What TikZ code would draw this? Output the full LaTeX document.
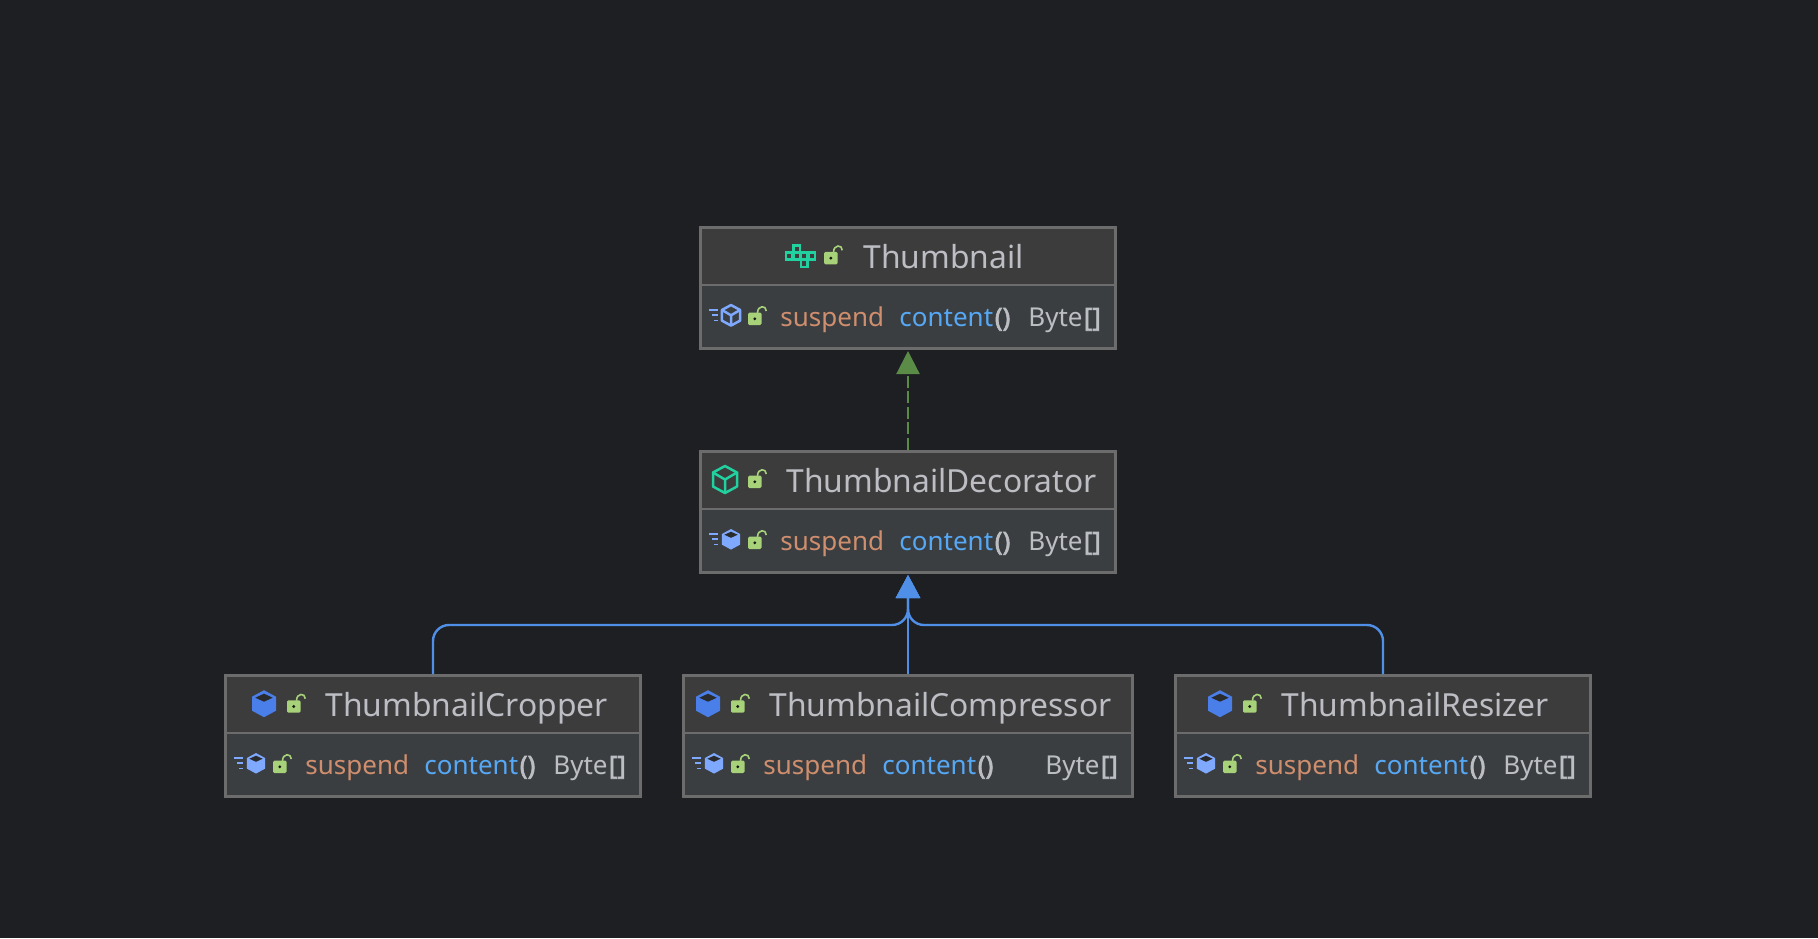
\documentclass[tikz,border=0pt]{standalone}
\usepackage{fontspec}
\setmainfont{Noto Sans}
\newfontfamily\strongmark[FakeBold=2.5]{Noto Sans}
\usetikzlibrary{arrows.meta}
\definecolor{canvasdark}{HTML}{1E1F22}
\definecolor{hdrfill}{HTML}{3C3C3C}
\definecolor{bodyfill}{HTML}{3B3E41}
\definecolor{frameline}{HTML}{6C6C6C}
\definecolor{plaintext}{HTML}{BCBEC4}
\definecolor{keywordorange}{HTML}{CF8E6D}
\definecolor{methodblue}{HTML}{56A8F5}
\definecolor{lockgreen}{HTML}{A8D27A}
\definecolor{ifacegreen}{HTML}{21D19F}
\definecolor{classblue}{HTML}{4A7EE8}
\definecolor{memberblue}{HTML}{7FA8FF}
\definecolor{implgreen}{HTML}{5A8C47}
\definecolor{extendblue}{HTML}{4F8FE8}

\newcommand{\methodicons}[3]{
	\pic at (#1-65,#2) {speedlines};
	\pic[scale=.76] at (#1-58+9,#2-10.7) {#3};
	\pic at (#1-32,#2-1) {lockicon};
}

\begin{document}
\begin{tikzpicture}[x=.5pt,y=-.5pt,
	classhdr/.style={draw=frameline,fill=hdrfill,line width=1pt,minimum height=28.75pt,inner sep=0pt,outer sep=0pt},
	classbody/.style={draw=frameline,fill=bodyfill,line width=1pt,minimum height=31.75pt,inner sep=0pt,outer sep=0pt},
	classframe/.style={draw=frameline,line width=1.5pt},
	titletext/.style={anchor=base west,inner sep=0pt,yshift=-.3pt,text=plaintext,font=\fontsize{15.9}{18}\selectfont},
	membertext/.style={anchor=base west,inner sep=0pt,yshift=-.3pt,text=plaintext,font=\fontsize{13}{15}\selectfont},
	keywordtext/.style={membertext,text=keywordorange},
	realizes/.style={draw=implgreen,line width=1.1pt,dash pattern=on 6pt off 1.8pt,shorten <=.75pt,shorten >=1.25pt,-{Triangle[length=11.5pt,width=11.5pt,fill=implgreen]}},
	extends/.style={draw=extendblue,line width=1.2pt,rounded corners=8pt,shorten <=.75pt,shorten >=1.25pt,-{Triangle[length=11.5pt,width=12pt,fill=extendblue]}},
	pics/lockicon/.style={code={
		\fill[lockgreen,rounded corners=.7pt] (0,0) rectangle (13.6,-12.4);
		\fill[hdrfill!40!black] (6.8,-6.2) circle (.8pt);
		\draw[lockgreen,line width=.8pt] (9.5,-12) .. controls (9.5,-20) and (18.3,-20) .. (18.3,-14);
	}},
	pics/speedlines/.style={code={
		\fill[memberblue] (-6,-16.8) rectangle (3,-15.2);
		\fill[memberblue] (-3.4,-11.8) rectangle (3,-10.2);
		\fill[memberblue] (-.8,-6.2) rectangle (3,-4.6);
	}},
	pics/cubeline/.style={code={
		\draw[#1,line width=1.25pt,line join=round] (0,-13.5) -- (12,-7) -- (12,7) -- (0,13.5) -- (-12,7) -- (-12,-7) -- cycle;
		\draw[#1,line width=1.25pt,line join=round] (-12,-7) -- (0,0) -- (12,-7) (0,0) -- (0,13.5);
	}},
	pics/cubesolid/.style={code={
		\fill[#1] (0,-13.5) -- (12,-7) -- (12,7) -- (0,13.5) -- (-12,7) -- (-12,-7) -- cycle;
		\fill[canvasdark!60!hdrfill] (0,-10) -- (8.7,-6) -- (0,-2) -- (-8.7,-6) -- cycle;
	}},
	pics/ifaceicon/.style={code={
		\foreach \col/\row in {1/0,0/1,1/1,2/1,3/1,2/2}
			\draw[ifacegreen,line width=1.3pt] (\col*7.4,\row*7.4) rectangle ++(6.7,6.7);
	}}]
	\path[fill=canvasdark,use as bounding box] (0,0) rectangle (1818,938);

	\node[classhdr,minimum width=207.5pt] (hdrThumbnail) at (908,256.25) {};
	\node[classbody,minimum width=207.5pt] (bodyThumbnail) at (908,316.75) {};
	\draw[classframe] (hdrThumbnail.north west) rectangle (bodyThumbnail.south east);
	\node[classhdr,minimum width=207.5pt] (hdrDecorator) at (908,480.25) {};
	\node[classbody,minimum width=207.5pt] (bodyDecorator) at (908,540.75) {};
	\draw[classframe] (hdrDecorator.north west) rectangle (bodyDecorator.south east);
	\node[classhdr,minimum width=207.5pt] (hdrCropper) at (433,704.25) {};
	\node[classbody,minimum width=207.5pt] (bodyCropper) at (433,764.75) {};
	\draw[classframe] (hdrCropper.north west) rectangle (bodyCropper.south east);
	\node[classhdr,minimum width=224.5pt] (hdrCompressor) at (908,704.25) {};
	\node[classbody,minimum width=224.5pt] (bodyCompressor) at (908,764.75) {};
	\draw[classframe] (hdrCompressor.north west) rectangle (bodyCompressor.south east);
	\node[classhdr,minimum width=207.5pt] (hdrResizer) at (1383,704.25) {};
	\node[classbody,minimum width=207.5pt] (bodyResizer) at (1383,764.75) {};
	\draw[classframe] (hdrResizer.north west) rectangle (bodyResizer.south east);

	\coordinate (joinBus) at (908,625);
	\draw[realizes] (hdrDecorator.north) -- (bodyThumbnail.south);
	\draw[extends] (hdrCropper.north) |- (joinBus) -- (bodyDecorator.south);
	\draw[extends] (hdrCompressor.north) -- (bodyDecorator.south);
	\draw[extends] (hdrResizer.north) |- (joinBus) -- (bodyDecorator.south);

	\pic at (786,245.3) {ifaceicon};
	\pic at (824,264.3) {lockicon};
	\node[titletext] (titleThumbnail) at (863,268) {Thumbnail};
	\methodicons{780}{326}{cubeline=memberblue}
	\node[keywordtext] (kwThumbnail) at (780,326) {suspend};
	\node[membertext] (fnThumbnail) at (899,326) {\textcolor{methodblue}{content}\kern.8pt{\strongmark()}};
	\node[membertext] (typeThumbnail) at (1028,326) {Byte\kern.6pt{\strongmark[]}};

	\pic at (725,479.5) {cubeline=ifacegreen};
	\pic at (748,488) {lockicon};
	\node[titletext] (titleDecorator) at (786,492) {ThumbnailDecorator};
	\methodicons{780}{550}{cubesolid=memberblue}
	\node[keywordtext] (kwDecorator) at (780,550) {suspend};
	\node[membertext] (fnDecorator) at (899,550) {\textcolor{methodblue}{content}\kern.8pt{\strongmark()}};
	\node[membertext] (typeDecorator) at (1028,550) {Byte\kern.6pt{\strongmark[]}};

	\pic at (264,703.7) {cubesolid=classblue};
	\pic at (287,712.7) {lockicon};
	\node[titletext] (titleCropper) at (325,716) {ThumbnailCropper};
	\methodicons{305}{774}{cubesolid=memberblue}
	\node[keywordtext] (kwCropper) at (305,774) {suspend};
	\node[membertext] (fnCropper) at (424,774) {\textcolor{methodblue}{content}\kern.8pt{\strongmark()}};
	\node[membertext] (typeCropper) at (553,774) {Byte\kern.6pt{\strongmark[]}};

	\pic at (708,703.7) {cubesolid=classblue};
	\pic at (731,712.7) {lockicon};
	\node[titletext] (titleCompressor) at (769,716) {ThumbnailCompressor};
	\methodicons{763}{774}{cubesolid=memberblue}
	\node[keywordtext] (kwCompressor) at (763,774) {suspend};
	\node[membertext] (fnCompressor) at (882,774) {\textcolor{methodblue}{content}\kern.8pt{\strongmark()}};
	\node[membertext] (typeCompressor) at (1045,774) {Byte\kern.6pt{\strongmark[]}};

	\pic at (1220,703.7) {cubesolid=classblue};
	\pic at (1243,712.7) {lockicon};
	\node[titletext] (titleResizer) at (1281,716) {ThumbnailResizer};
	\methodicons{1255}{774}{cubesolid=memberblue}
	\node[keywordtext] (kwResizer) at (1255,774) {suspend};
	\node[membertext] (fnResizer) at (1374,774) {\textcolor{methodblue}{content}\kern.8pt{\strongmark()}};
	\node[membertext] (typeResizer) at (1503,774) {Byte\kern.6pt{\strongmark[]}};
\end{tikzpicture}
\end{document}
